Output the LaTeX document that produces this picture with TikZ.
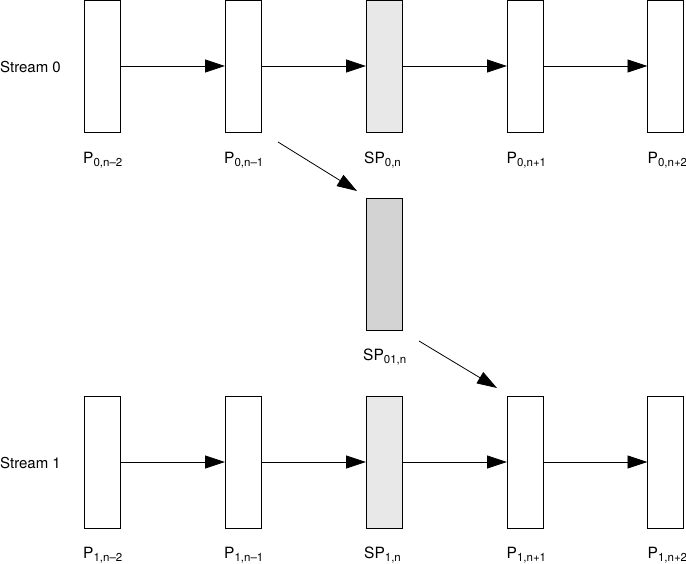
\documentclass[tikz,border=0pt]{standalone}
\usepackage{fontspec}
\setmainfont{TeX Gyre Heros}
\usetikzlibrary{arrows.meta,calc}
\definecolor{lightfill}{HTML}{E8E8E8}
\definecolor{darkfill}{HTML}{D3D3D3}
\newcommand{\sbs}[1]{\raisebox{-3.5pt}{\fontsize{11.5}{12}\selectfont #1}}
\begin{document}
\begin{tikzpicture}[x=1pt,y=-1pt,
  frame/.style={draw=black,line width=0.9pt,minimum width=36pt,minimum height=132pt,inner sep=0pt,outer sep=0pt,fill=white},
  lbl/.style={anchor=base west,inner sep=0pt,font=\fontsize{15.5}{18}\selectfont},
  conn/.style={line width=0.8pt,-{Triangle[length=20pt,width=13pt]}}]
\useasboundingbox (0,0) rectangle (686,563);
% top row
\node[frame] (a1) at (102,66) {};
\node[frame] (a2) at (243,66) {};
\node[frame,fill=lightfill] (a3) at (384,66) {};
\node[frame] (a4) at (525,66) {};
\node[frame] (a5) at (665.5,66) {};
% middle
\node[frame,fill=darkfill] (m) at (384,264) {};
% bottom row
\node[frame] (b1) at (102,462) {};
\node[frame] (b2) at (243,462) {};
\node[frame,fill=lightfill] (b3) at (384,462) {};
\node[frame] (b4) at (525,462) {};
\node[frame] (b5) at (665.5,462) {};
% labels
\node[lbl,font=\fontsize{15}{18}\selectfont] (s0) at (0,72) {Stream 0};
\node[lbl,font=\fontsize{15}{18}\selectfont] (s1) at (0,468) {Stream 1};
\node[lbl] (la1) at (83,163) {P\sbs{0,n–2}};
\node[lbl] (la2) at (224,163) {P\sbs{0,n–1}};
\node[lbl] (la3) at (364,163) {SP\sbs{0,n}};
\node[lbl] (la4) at (506.5,163) {P\sbs{0,n+1}};
\node[lbl] (la5) at (647.5,163) {P\sbs{0,n+2}};
\node[lbl] (lm) at (363,360) {SP\sbs{01,n}};
\node[lbl] (lb1) at (83,558) {P\sbs{1,n–2}};
\node[lbl] (lb2) at (224,558) {P\sbs{1,n–1}};
\node[lbl] (lb3) at (364,558) {SP\sbs{1,n}};
\node[lbl] (lb4) at (506.5,558) {P\sbs{1,n+1}};
\node[lbl] (lb5) at (647.5,558) {P\sbs{1,n+2}};
% horizontal connectors
\foreach \i/\j in {1/2,2/3,3/4,4/5}{
  \draw[conn] (a\i.east) -- (a\j.west);
  \draw[conn] (b\i.east) -- (b\j.west);
}
% diagonal connectors
\coordinate (d1s) at ($(a2.south east)+(17,10)$);
\coordinate (d1e) at ($(m.north west)+(-9,-7)$);
\coordinate (d2s) at ($(m.south east)+(17,11)$);
\coordinate (d2e) at ($(b4.north west)+(-10,-8)$);
\draw[conn] (d1s) -- (d1e);
\draw[conn] (d2s) -- (d2e);
\end{tikzpicture}
\end{document}
